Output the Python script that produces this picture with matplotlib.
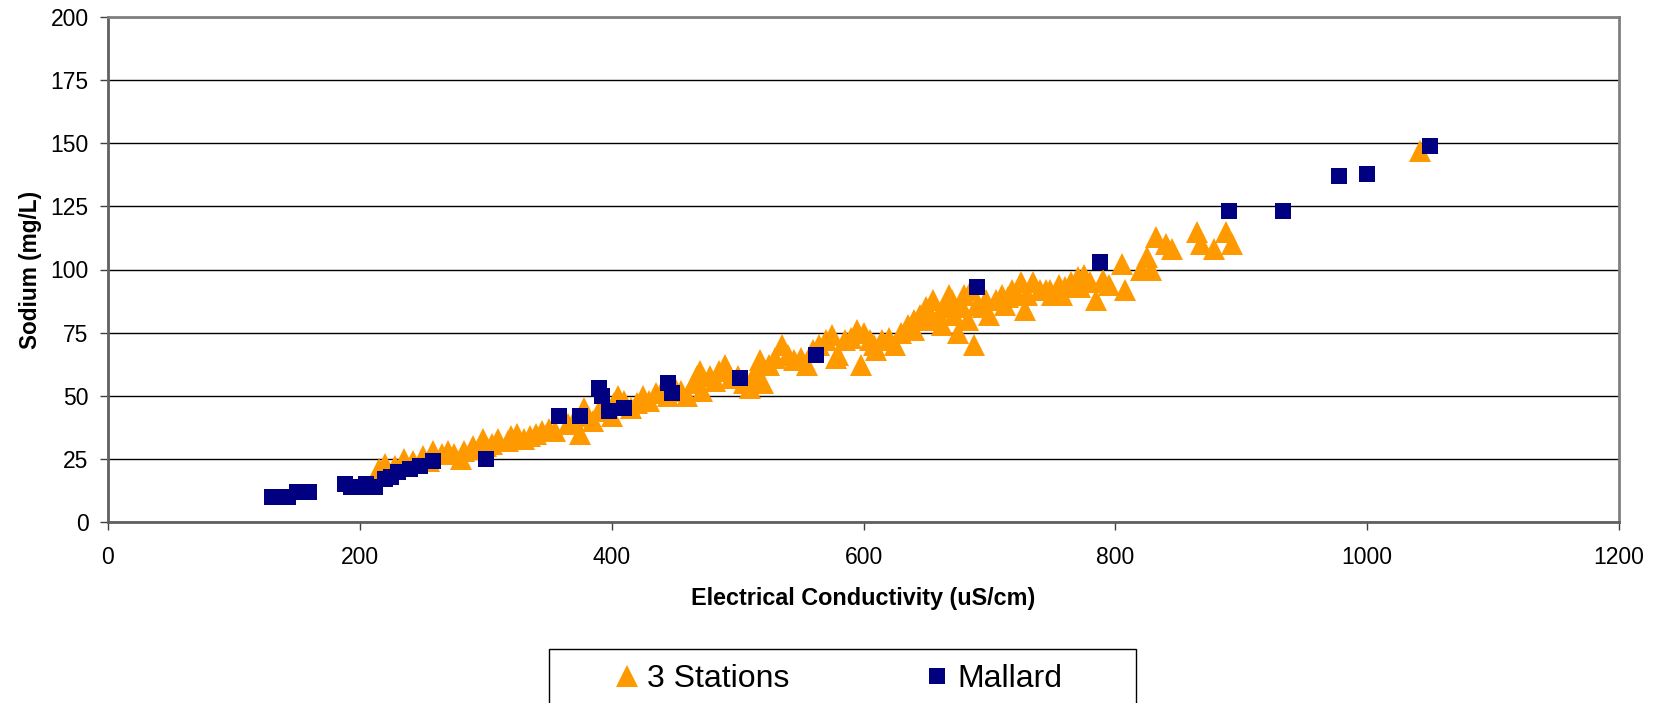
import matplotlib
matplotlib.use('Agg')
import matplotlib.pyplot as plt
import matplotlib.patches as mplpatches

plt.rcParams['font.family'] = ['Liberation Sans', 'DejaVu Sans']

# 3 Stations (orange triangles)
stations_ec = [215, 220, 228, 235, 242, 250, 255, 258, 265, 270, 275, 280, 283, 290, 295,
               298, 300, 305, 310, 318, 320, 325, 330, 335, 340, 345, 350, 355, 365, 370,
               375, 378, 380, 385, 390, 395, 400, 402, 405, 410, 415, 420, 425, 430, 435,
               440, 445, 450, 455, 460, 465, 468, 470, 472, 478, 482, 485, 490, 495, 500,
               505, 510, 512, 515, 518, 520, 525, 530, 535, 540, 545, 550, 555, 560, 565,
               570, 575, 578, 580, 585, 590, 595, 598, 600, 605, 608, 610, 615, 620, 625,
               630, 635, 640, 645, 650, 652, 655, 660, 665, 668, 670, 675, 678, 680, 685,
               688, 690, 695, 700, 705, 710, 715, 718, 725, 728, 730, 735, 740, 745, 750,
               755, 760, 765, 770, 775, 780, 785, 790, 805, 808, 820, 825, 828, 832, 840,
               845, 865, 868, 878, 888, 893, 1042,
               640, 655, 662, 672, 683, 697, 712, 722, 748, 758, 772, 795]
stations_na = [21, 23, 22, 25, 24, 26, 24, 28, 27, 28, 27, 25, 28, 30, 29,
               33, 30, 31, 33, 32, 34, 35, 33, 34, 35, 36, 37, 36, 39, 40,
               35, 45, 42, 40, 44, 48, 42, 47, 50, 48, 45, 47, 50, 48, 51,
               52, 50, 53, 52, 50, 55, 58, 60, 52, 58, 56, 60, 62, 57, 58,
               55, 53, 57, 60, 64, 55, 62, 65, 70, 66, 64, 65, 62, 68, 70,
               72, 74, 65, 66, 72, 73, 76, 62, 75, 72, 70, 68, 72, 73, 70,
               75, 78, 80, 82, 85, 80, 88, 82, 85, 90, 88, 75, 85, 90, 92,
               70, 86, 85, 82, 88, 90, 89, 92, 95, 84, 90, 95, 92, 92, 90,
               94, 93, 95, 97, 98, 95, 88, 96, 102, 92, 100, 105, 100, 113, 110,
               108, 115, 110, 108, 115, 110, 147,
               76, 80, 78, 82, 80, 88, 86, 90, 92, 90, 93, 94]

# Mallard (navy squares)
mallard_ec = [130, 137, 143, 150, 155, 160, 188, 193, 200, 205, 212, 220, 225, 230, 240,
              248, 258, 300, 358, 375, 390, 392, 398, 410, 445, 448, 502, 562, 690, 788,
              890, 933, 978, 1000, 1050]
mallard_na = [10, 10, 10, 12, 12, 12, 15, 14, 14, 15, 14, 17, 18, 20, 21,
              22, 24, 25, 42, 42, 53, 50, 44, 45, 55, 51, 57, 66, 93, 103,
              123, 123, 137, 138, 149]

fig = plt.figure(figsize=(16.62, 7.03), dpi=100)
ax = fig.add_axes([108/1662, 1-522/703, 1511/1662, 505/703])

ax.plot(stations_ec, stations_na, linestyle='none', marker='^', markersize=16,
        color='#FF9900', markeredgewidth=0, label='3 Stations')
ax.plot(mallard_ec, mallard_na, linestyle='none', marker='s', markersize=12,
        color='#000080', markeredgewidth=0, label='Mallard')

ax.set_xlim(0, 1200)
ax.set_ylim(0, 200)
ax.set_xticks(range(0, 1201, 200))
ax.set_yticks(range(0, 201, 25))
ax.yaxis.grid(True, color='black', linewidth=1)
ax.set_axisbelow(True)
for s in ax.spines.values():
    s.set_color('#808080')
    s.set_linewidth(2)
ax.spines['left'].set_color('#606060')
ax.spines['bottom'].set_color('#606060')
ax.tick_params(direction='out', length=6, width=1, color='#404040', labelsize=16.5)
ax.tick_params(axis='y', pad=8)
ax.tick_params(axis='x', pad=11.5)

ax.set_xlabel('Electrical Conductivity (uS/cm)', fontsize=16.8, fontweight='bold', labelpad=12.5)
ax.set_ylabel('Sodium (mg/L)', fontsize=16.3, fontweight='bold', labelpad=6.2)

# legend box (runs off the bottom edge like the original)
fig.patches.append(mplpatches.Rectangle((549/1662, -0.05), (1136-549)/1662, 0.05+54/703,
                                        transform=fig.transFigure, facecolor='white',
                                        edgecolor='black', linewidth=1))
leg = fig.legend(loc='center', bbox_to_anchor=(835/1662, 1-679/703), ncol=2,
                 fontsize=23, frameon=False, borderaxespad=0, columnspacing=4.0,
                 handletextpad=0.05, handlelength=1.2, borderpad=0.3, markerscale=1.0)

fig.savefig('out.png', dpi=100)
